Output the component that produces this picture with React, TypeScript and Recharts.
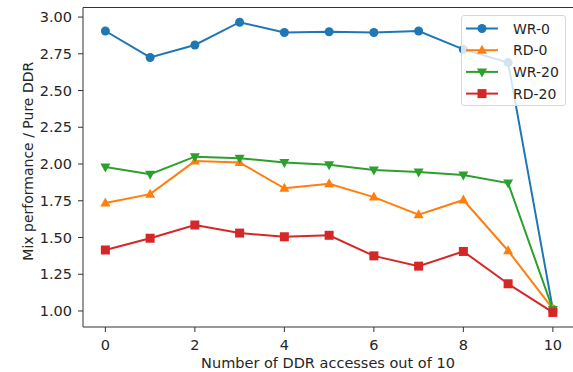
import { LineChart, Line, XAxis, YAxis, Legend, Label, ReferenceLine } from 'recharts';

const accesses = [0, 1, 2, 3, 4, 5, 6, 7, 8, 9, 10];
const wr0 = [2.905, 2.725, 2.81, 2.965, 2.895, 2.9, 2.895, 2.905, 2.78, 2.69, 1.01];
const rd0 = [1.735, 1.795, 2.02, 2.01, 1.835, 1.865, 1.775, 1.655, 1.755, 1.41, 1.015];
const wr20 = [1.98, 1.93, 2.05, 2.04, 2.01, 1.995, 1.96, 1.945, 1.925, 1.87, 1.01];
const rd20 = [1.415, 1.495, 1.585, 1.53, 1.505, 1.515, 1.375, 1.305, 1.405, 1.185, 0.99];

const xTicks = [0, 2, 4, 6, 8, 10];
const yTicks = [1, 1.25, 1.5, 1.75, 2, 2.25, 2.5, 2.75, 3];
const yMax = 3.065;

const seriesList = [
  { key: 'wr0', name: 'WR-0', color: '#1f77b4', marker: 'circle' },
  { key: 'rd0', name: 'RD-0', color: '#ff7f0e', marker: 'up' },
  { key: 'wr20', name: 'WR-20', color: '#2ca02c', marker: 'down' },
  { key: 'rd20', name: 'RD-20', color: '#d62728', marker: 'square' },
];

const data = accesses.map((x, i) => ({ x, wr0: wr0[i], rd0: rd0[i], wr20: wr20[i], rd20: rd20[i] }));

const FONT = 'DejaVu Sans, sans-serif';
const TEXT = '#262626';

function Marker({ cx, cy, shape, color }: { cx: number; cy: number; shape: string; color: string }) {
  if (shape === 'circle') return <circle cx={cx} cy={cy} r={4.5} fill={color} />;
  if (shape === 'up')
    return <polygon points={`${cx},${cy - 5.5} ${cx - 5},${cy + 3.5} ${cx + 5},${cy + 3.5}`} fill={color} />;
  if (shape === 'down')
    return <polygon points={`${cx},${cy + 5.5} ${cx - 5},${cy - 3.5} ${cx + 5},${cy - 3.5}`} fill={color} />;
  return <rect x={cx - 4.5} y={cy - 4.5} width={9} height={9} fill={color} />;
}

const dotFor = (shape: string, color: string) => (p: any) => (
  <Marker key={`${shape}-${p.index}`} cx={p.cx} cy={p.cy} shape={shape} color={color} />
);

function LegendBox() {
  return (
    <div
      style={{
        width: 105,
        height: 91,
        background: 'rgba(255,255,255,0.8)',
        border: '1px solid #d8d8d8',
        borderRadius: 3,
        boxSizing: 'border-box',
        fontFamily: FONT,
      }}
    >
      <svg width={104} height={90}>
        {seriesList.map((s, i) => {
          const y = 12.5 + i * 21.7;
          return (
            <g key={s.key}>
              <line x1={4} x2={36} y1={y} y2={y} stroke={s.color} strokeWidth={2} />
              <Marker cx={20} cy={y} shape={s.marker} color={s.color} />
              <text x={51} y={y} dy="0.36em" fill={TEXT} fontFamily={FONT} fontSize={14}>
                {s.name}
              </text>
            </g>
          );
        })}
      </svg>
    </div>
  );
}

export default function App() {
  return (
    <div style={{ position: 'absolute', left: 0, top: 0, width: 573, height: 372, background: '#fff' }}>
      <LineChart width={573} height={372} data={data} margin={{ top: 7.5, right: 0, bottom: 15, left: 0 }}>
        <XAxis
          dataKey="x"
          type="number"
          domain={[-0.5, 10.45]}
          allowDataOverflow
          ticks={xTicks}
          height={30}
          tickSize={5}
          tickMargin={8}
          stroke="#333"
          tick={{ fill: TEXT, fontSize: 14.5, fontFamily: FONT }}
        >
          <Label
            content={(props: any) => {
              const vb = props.viewBox;
              return (
                <text x={vb.x + vb.width / 2} y={368} textAnchor="middle" fill={TEXT} fontSize={14.5} fontFamily={FONT}>
                  Number of DDR accesses out of 10
                </text>
              );
            }}
          />
        </XAxis>
        <YAxis
          type="number"
          domain={[0.891, yMax]}
          allowDataOverflow
          ticks={yTicks}
          width={83}
          tickSize={5}
          tickMargin={6}
          stroke="#333"
          tickFormatter={(v: number) => v.toFixed(2)}
          tick={{ fill: TEXT, fontSize: 14.5, fontFamily: FONT }}
        >
          <Label
            content={(props: any) => {
              const vb = props.viewBox;
              const cy = vb.y + vb.height / 2 - 6;
              return (
                <text
                  x={32.5}
                  y={cy}
                  transform={`rotate(-90, 32.5, ${cy})`}
                  textAnchor="middle"
                  fill={TEXT}
                  fontSize={14}
                  fontFamily={FONT}
                >
                  Mix performance / Pure DDR
                </text>
              );
            }}
          />
        </YAxis>
        <ReferenceLine y={yMax} stroke="#333" strokeWidth={1} />
        {seriesList.map((s) => (
          <Line
            key={s.key}
            dataKey={s.key}
            name={s.name}
            type="linear"
            stroke={s.color}
            strokeWidth={2}
            dot={dotFor(s.marker, s.color)}
            activeDot={false}
            isAnimationActive={false}
          />
        ))}
        <Legend
          layout="vertical"
          align="center"
          verticalAlign="middle"
          content={() => <LegendBox />}
          wrapperStyle={{ position: 'absolute', left: 461, top: 15, width: 105, height: 91 }}
        />
      </LineChart>
    </div>
  );
}
